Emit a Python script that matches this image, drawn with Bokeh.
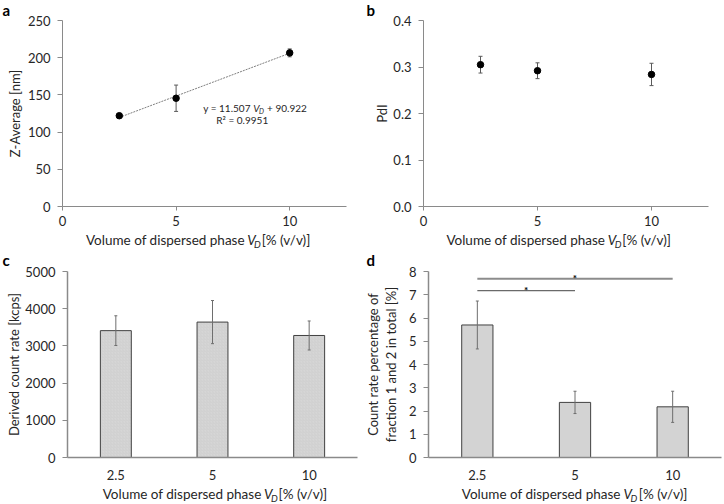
from math import pi
from bokeh.plotting import figure
from bokeh.layouts import column, row
from bokeh.models import (ColumnDataSource, Whisker, TeeHead, Label, FixedTicker,
                          NumeralTickFormatter, FactorRange, Range1d)
from bokeh.core.properties import value
from bokeh.embed import file_html
from bokeh.resources import INLINE

# ---------------- data ----------------
vd_values = [2.5, 5, 10]
vd_labels = ["2.5", "5", "10"]
z_average = [122.0, 145.5, 206.5]
z_average_sd = [1.5, 17.7, 5.3]
pdi = [0.305, 0.292, 0.284]
pdi_sd = [0.018, 0.017, 0.024]
count_rate = [3410, 3640, 3280]
count_rate_sd = [400, 580, 390]
fraction_pct = [5.70, 2.37, 2.18]
fraction_pct_sd = [1.03, 0.48, 0.67]
fit_slope = 11.507
fit_intercept = 90.922
fit_r2 = 0.9951
x_ticks = [0, 5, 10]
z_ticks = [0, 50, 100, 150, 200, 250]
pdi_ticks = [0.0, 0.1, 0.2, 0.3, 0.4]
count_ticks = [0, 1000, 2000, 3000, 4000, 5000]
frac_ticks = [0, 1, 2, 3, 4, 5, 6, 7, 8]
sig_pairs = [("2.5", "5"), ("2.5", "10")]
sig_levels = [7.18, 7.69]

FONT = "Lato"
TEXT = "#262626"
AXIS = "#8a8a8a"
ERR = "#5a5a5a"

# geometry in page pixels: figure box (fx, fy, w, h) and frame box (L, T, R, B)
GEO = {
    "a": dict(fx=24, fy=0, w=338, h=231, L=60, T=20, R=346, B=206, x0=0, x1=12.5, y0=0, y1=250),
    "b": dict(fx=390, fy=0, w=334, h=231, L=422, T=20, R=708, B=206, x0=0, x1=12.5, y0=0, y1=0.4),
    "c": dict(fx=22, fy=250, w=340, h=235, L=66, T=271, R=357, B=457, x0=0, x1=3, y0=0, y1=5000),
    "d": dict(fx=400, fy=250, w=324, h=235, L=428, T=271, R=721, B=457, x0=0, x1=3, y0=0, y1=8),
}


def to_data(g, rx, ry):
    x = g["x0"] + (rx - g["L"]) / (g["R"] - g["L"]) * (g["x1"] - g["x0"])
    y = g["y0"] + (g["B"] - ry) / (g["B"] - g["T"]) * (g["y1"] - g["y0"])
    return x, y


def make_panel(g, x_range, y_range, axis_width=1, x_standoff=6):
    p = figure(width=g["w"], height=g["h"], x_range=x_range, y_range=y_range,
               output_backend="svg", toolbar_location=None,
               min_border_left=g["L"] - g["fx"], min_border_right=g["fx"] + g["w"] - g["R"],
               min_border_top=g["T"] - g["fy"], min_border_bottom=g["fy"] + g["h"] - g["B"])
    p.outline_line_color = None
    p.xgrid.visible = False
    p.ygrid.visible = False
    p.axis.axis_line_color = AXIS
    p.axis.axis_line_width = axis_width
    p.axis.major_tick_line_color = AXIS
    p.axis.minor_tick_line_color = None
    p.axis.major_tick_in = 0
    p.yaxis.major_tick_out = 5
    p.xaxis.major_tick_out = 4
    p.yaxis.major_label_standoff = 7
    p.xaxis.major_label_standoff = x_standoff
    p.axis.major_label_text_font = FONT
    p.axis.major_label_text_font_size = "13px"
    p.axis.major_label_text_color = TEXT
    return p


def make_strip(fx, fy, w, h):
    s = figure(width=w, height=h, x_range=Range1d(0, w), y_range=Range1d(0, h),
               output_backend="svg", toolbar_location=None, min_border=0,
               x_axis_location=None, y_axis_location=None)
    s.grid.visible = False
    s.outline_line_color = None
    return s, dict(fx=fx, fy=fy, h=h)


def label(text, x, y, size=13.0, align="center", baseline="middle",
          angle=0.0, style="normal", color=TEXT):
    return Label(x=x, y=y, text=text, text_font=FONT, text_font_size=f"{size}px",
                 text_align=align, text_baseline=baseline, angle=angle,
                 text_font_style=style, text_color=color)


def line_pos(ry, size, baseline):
    # texts given by their baseline are drawn by their middle (box middle 0.387 em above baseline)
    return ry - 0.387 * size if baseline == "alphabetic" else ry


def panel_text(p, g, rx, ry, text, size=13.0, baseline="alphabetic", **kw):
    x, y = to_data(g, rx, line_pos(ry, size, baseline))
    p.add_layout(label(text, x, y, size=size, **kw))


def strip_text(s, sg, rx, ry, text, size=13.0, baseline="alphabetic", **kw):
    ry = line_pos(ry, size, baseline)
    s.add_layout(label(text, rx - sg["fx"], sg["h"] - (ry - sg["fy"]), size=size, **kw))


def x_title(s, sg, v_left, base_y):
    strip_text(s, sg, v_left - 3, base_y, "Volume of dispersed phase", size=13.5, align="right")
    strip_text(s, sg, v_left, base_y, "V", size=13.5, align="left", style="italic")
    strip_text(s, sg, v_left + 8, base_y + 3, "D", size=9.5, align="left", style="italic")
    strip_text(s, sg, v_left + 17, base_y, "[% (v/v)]", size=13.5, align="left")


def y_title(s, sg, rx, ry, text):
    strip_text(s, sg, rx, ry, text, baseline="middle", angle=pi / 2)


def whisker(p, base, mean, sd, level, color, head=4):
    src = ColumnDataSource(dict(base=base,
                                upper=[m + s for m, s in zip(mean, sd)],
                                lower=[m - s for m, s in zip(mean, sd)]))
    w = Whisker(source=src, base="base", upper="upper", lower="lower", dimension="height",
                line_color=color, line_width=1, level=level,
                upper_head=TeeHead(size=head, line_color=color, line_width=1),
                lower_head=TeeHead(size=head, line_color=color, line_width=1))
    p.add_layout(w)


def vcenter(g):
    return (g["T"] + g["B"]) / 2


def hcenter(g):
    return (g["L"] + g["R"]) / 2


# ---------------- panel a ----------------
g = GEO["a"]
pa = make_panel(g, Range1d(0, 12.5), Range1d(0, 250), x_standoff=5)
pa.xaxis.ticker = FixedTicker(ticks=x_ticks)
pa.yaxis.ticker = FixedTicker(ticks=z_ticks)
fit_x = [vd_values[0], vd_values[-1]]
fit_y = [fit_slope * v + fit_intercept for v in fit_x]
pa.line(fit_x, fit_y, line_color="#7f7f7f", line_dash="2 1", line_width=1)
whisker(pa, vd_values, z_average, z_average_sd, "underlay", ERR)
pa.scatter(vd_values, z_average, size=6.5, color="black")
panel_text(pa, g, 249.5, 111.5, f"y = {fit_slope}", size=10, align="right")
panel_text(pa, g, 252, 111.5, "V", size=10, align="left", style="italic")
panel_text(pa, g, 258, 113.5, "D", size=7, align="left", style="italic")
panel_text(pa, g, 266, 111.5, f"+ {fit_intercept}", size=10, align="left")
panel_text(pa, g, 241, 123.5, f"R\u00b2 = {fit_r2}", size=10, align="center")

sa_left, sga_left = make_strip(0, 0, 24, 250)
strip_text(sa_left, sga_left, 2, 15, "a", size=15, align="left", style="bold", color="black")
y_title(sa_left, sga_left, 14, vcenter(g), "Z-Average [nm]")
sa_bot, sga_bot = make_strip(24, 231, 338, 19)
x_title(sa_bot, sga_bot, hcenter(g) + 41, 244.5)

# ---------------- panel b ----------------
g = GEO["b"]
pb = make_panel(g, Range1d(0, 12.5), Range1d(0, 0.4), x_standoff=5)
pb.xaxis.ticker = FixedTicker(ticks=x_ticks)
pb.yaxis.ticker = FixedTicker(ticks=pdi_ticks)
pb.yaxis.formatter = NumeralTickFormatter(format="0.0")
whisker(pb, vd_values, pdi, pdi_sd, "underlay", ERR)
pb.scatter(vd_values, pdi, size=6.5, color="black")

sb_left, sgb_left = make_strip(362, 0, 28, 250)
strip_text(sb_left, sgb_left, 366, 15, "b", size=15, align="left", style="bold", color="black")
y_title(sb_left, sgb_left, 381, vcenter(g), "PdI")
sb_bot, sgb_bot = make_strip(390, 231, 334, 19)
x_title(sb_bot, sgb_bot, hcenter(g) + 41, 244.5)

# ---------------- panel c ----------------
g = GEO["c"]
pc = make_panel(g, FactorRange(factors=vd_labels, range_padding=0), Range1d(0, 5000),
                axis_width=1.5, x_standoff=8)
pc.xaxis.major_tick_line_color = None
pc.yaxis.ticker = FixedTicker(ticks=count_ticks)
pc.vbar(x=vd_labels, top=count_rate, width=0.32, fill_color="#d6d6d6", line_color="#404040",
        line_width=1, hatch_pattern="right_diagonal_line", hatch_color="#c4c4c4",
        hatch_scale=3, hatch_weight=0.5, hatch_alpha=0.7)
whisker(pc, vd_labels, count_rate, count_rate_sd, "overlay", "#6e6e6e", head=3)

sc_left, sgc_left = make_strip(0, 250, 22, 254)
strip_text(sc_left, sgc_left, 2, 265.5, "c", size=15, align="left", style="bold", color="black")
y_title(sc_left, sgc_left, 13, vcenter(g), "Derived count rate [kcps]")
sc_bot, sgc_bot = make_strip(22, 485, 340, 19)
x_title(sc_bot, sgc_bot, hcenter(g) + 41, 499)

# ---------------- panel d ----------------
g = GEO["d"]
pd_ = make_panel(g, FactorRange(factors=vd_labels, range_padding=0), Range1d(0, 8),
                 axis_width=1.5, x_standoff=8)
pd_.xaxis.major_tick_line_color = None
pd_.yaxis.ticker = FixedTicker(ticks=frac_ticks)
pd_.vbar(x=vd_labels, top=fraction_pct, width=0.32, fill_color="#d3d3d3", line_color="#404040",
         line_width=1)
whisker(pd_, vd_labels, fraction_pct, fraction_pct_sd, "overlay", "#6e6e6e", head=3)
sig_src = ColumnDataSource(dict(
    x0=[a for a, b in sig_pairs], x1=[b for a, b in sig_pairs], y=sig_levels,
    lw=[1.2, 2.0], lc=["#6a6a6a", "#8c8c8c"]))
pd_.segment(x0="x0", y0="y", x1="x1", y1="y", line_width="lw", line_color="lc", source=sig_src)
star_x = [(vd_labels.index(a) + vd_labels.index(b)) / 2 + 0.5 for a, b in sig_pairs]
pd_.text(x=star_x, y=sig_levels, text=["*"] * len(sig_pairs), text_font=value(FONT),
         text_font_size="10px", text_font_style="bold", text_align="center",
         text_baseline="middle", y_offset=-1, text_color="black")

sd_left, sgd_left = make_strip(362, 250, 38, 254)
strip_text(sd_left, sgd_left, 366, 265.5, "d", size=15, align="left", style="bold", color="black")
y_title(sd_left, sgd_left, 372, vcenter(g), "Count rate percentage of")
y_title(sd_left, sgd_left, 390, vcenter(g), "fraction 1 and 2 in total [%]")
sd_bot, sgd_bot = make_strip(400, 485, 324, 19)
x_title(sd_bot, sgd_bot, hcenter(g) + 41, 499)

top = row(sa_left, column(pa, sa_bot), sb_left, column(pb, sb_bot))
bottom = row(sc_left, column(pc, sc_bot), sd_left, column(pd_, sd_bot))
layout = column(top, bottom)
open("out.html", "w").write(file_html(layout, INLINE))
